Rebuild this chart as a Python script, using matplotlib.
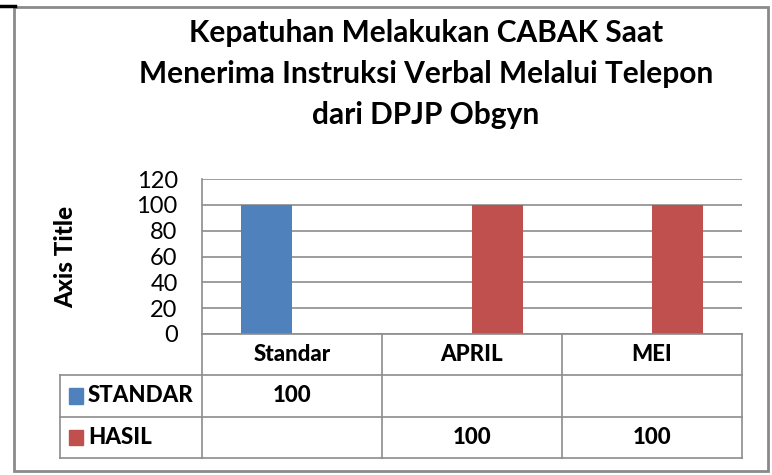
import matplotlib.pyplot as plt
from matplotlib.patches import Rectangle
from matplotlib.lines import Line2D

# data
categories = ['Standar', 'APRIL', 'MEI']
series_names = ['STANDAR', 'HASIL']
standar_vals = [100, None, None]
hasil_vals = [None, 100, 100]
colors = ['#4F81BD', '#C0504D']
yticks = [0, 20, 40, 60, 80, 100, 120]
title = 'Kepatuhan Melakukan CABAK Saat\nMenerima Instruksi Verbal Melalui Telepon\ndari DPJP Obgyn'

plt.rcParams['font.family'] = ['Lato', 'DejaVu Sans']

W, H = 772, 475
fig = plt.figure(figsize=(W / 100, H / 100), dpi=100)


def px(x0, y0, x1, y1):
    # pixel box (top-left origin) -> figure fraction rect
    return [x0 / W, 1 - y1 / H, (x1 - x0) / W, (y1 - y0) / H]


grid_c = '#8c8c8c'

# outer chart frame
fig.patches.append(Rectangle((14 / W, 1 - 471 / H), (768 - 14) / W, (471 - 7) / H,
                             transform=fig.transFigure, fill=False,
                             edgecolor='#8a8a8a', lw=2))
fig.lines.append(Line2D([0, 15 / W], [1 - 6 / H, 1 - 6 / H], transform=fig.transFigure,
                        color='black', lw=2.5))

# plot area
ax = fig.add_axes(px(202, 179, 742, 334))
w = 0.2857
series = [standar_vals, hasil_vals]
for s, (vals, col) in enumerate(zip(series, colors)):
    xs = [i for i, v in enumerate(vals) if v is not None]
    hs = [v for v in vals if v is not None]
    off = -w if s == 0 else 0
    ax.bar([x + off for x in xs], hs, width=w, align='edge', color=col, zorder=3)

ax.set_xlim(-0.5, len(categories) - 0.5)
ax.set_ylim(0, 120)
ax.set_yticks(yticks)
ax.set_yticklabels([str(t) for t in yticks], fontsize=17)
ax.set_xticks([])
ax.tick_params(axis='y', length=0, pad=17.5)
ax.yaxis.grid(True, color=grid_c, lw=1.2, zorder=0)
for sp in ['top', 'right', 'bottom']:
    ax.spines[sp].set_visible(False)
ax.spines['left'].set_color(grid_c)
ax.spines['left'].set_linewidth(1.2)
ax.set_ylabel('Axis Title', fontsize=17.5, fontweight='black')
ax.yaxis.set_label_coords(-125 / 540, 0.5)

# data table
tx0 = 60
cat_w = 180
left_units = (202 - tx0) / cat_w
tab = fig.add_axes(px(tx0, 334, 742, 458))
tab.set_xlim(-0.5 - left_units, len(categories) - 0.5)
tab.set_ylim(3, 0)
tab.axis('off')
lk = dict(color=grid_c, lw=1.2, clip_on=False)
xl = -0.5 - left_units
xr = len(categories) - 0.5
tab.plot([-0.5, xr], [0, 0], **lk)
for r in [1, 2, 3]:
    tab.plot([xl, xr], [r, r], **lk)
for c in range(len(categories) + 1):
    tab.plot([c - 0.5, c - 0.5], [0, 3], **lk)
tab.plot([xl, xl], [1, 3], **lk)

fs_tab = 16
for i, cat in enumerate(categories):
    tab.text(i, 0.5, cat, ha='center', va='center', fontsize=fs_tab, fontweight='black')
for r, (name, vals, col) in enumerate(zip(series_names, series, colors), start=1):
    sq_x = xl + 9 / cat_w
    tab.add_patch(Rectangle((sq_x, r + 0.5 - 7.5 / 41), 14 / cat_w, 15 / 41,
                            color=col, clip_on=False))
    tab.text(sq_x + 19 / cat_w, r + 0.5, name, ha='left', va='center',
             fontsize=fs_tab, fontweight='black')
    for i, v in enumerate(vals):
        if v is not None:
            tab.text(i, r + 0.5, str(v), ha='center', va='center',
                     fontsize=fs_tab, fontweight='black')

fig.text(426 / W, 1 - 74 / H, title, ha='center', va='center', fontsize=21.5,
         fontweight='bold', linespacing=1.55)

fig.savefig('out.png', dpi=100)
